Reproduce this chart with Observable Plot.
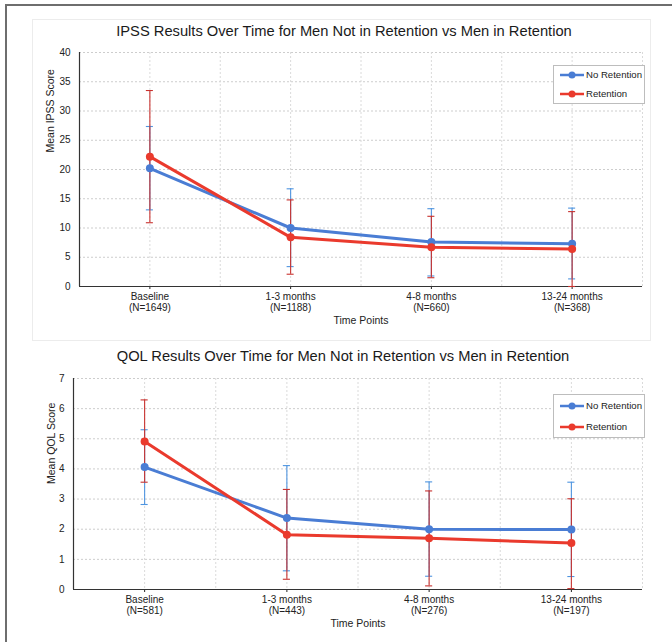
<!DOCTYPE html>
<html><head><meta charset="utf-8">
<script src="https://cdn.jsdelivr.net/npm/d3@7"></script>
<script src="https://cdn.jsdelivr.net/npm/@observablehq/plot@0.6"></script>
<style>
html,body{margin:0;padding:0;background:#fff;}
body{width:672px;height:642px;position:relative;overflow:hidden;font-family:"Liberation Sans",Arial,sans-serif;}
.abs{position:absolute;}
.frame{left:5px;top:4px;width:800px;height:800px;border:2px solid #6e6e6e;}
.panel{left:32px;top:19px;width:617px;height:320px;border:1px solid #ececec;}
.title{font-size:14.7px;color:#1a1a1a;white-space:nowrap;transform:translateX(-50%);line-height:17px;}
.legend{background:#fff;border:1px solid #bdbdbd;font-size:9.6px;color:#222;box-sizing:border-box;}
.legend .row{position:absolute;left:6px;display:flex;align-items:center;height:12px;line-height:12px;white-space:nowrap;}
.legend svg{display:block;margin-right:2px;flex:none;}
</style></head><body>
<div class="abs frame"></div>
<div class="abs panel"></div>
<div id="t1" class="abs title" style="left:344px;top:23px;"></div>
<div id="c1" class="abs" style="left:0;top:40px;"></div>
<div id="t2" class="abs title" style="left:343px;top:348px;"></div>
<div id="c2" class="abs" style="left:0;top:368px;"></div>
<div id="l1" class="abs legend" style="left:553px;top:65px;width:92px;height:39px;"></div>
<div id="l2" class="abs legend" style="left:553px;top:394px;width:92px;height:44px;"></div>
<script>
// ---- data ----
const categories = ["Baseline", "1-3 months", "4-8 months", "13-24 months"];
const seriesNames = ["No Retention", "Retention"];
const xTitle = "Time Points";

const ipssTitle = "IPSS Results Over Time for Men Not in Retention vs Men in Retention";
const ipssYLabel = "Mean IPSS Score";
const ipssN = [1649, 1188, 660, 368];
const ipssNoRetMean = [20.2, 10.0, 7.6, 7.3];
const ipssNoRetLo = [13.1, 3.4, 1.8, 1.3];
const ipssNoRetHi = [27.35, 16.7, 13.3, 13.4];
const ipssRetMean = [22.2, 8.4, 6.7, 6.4];
const ipssRetLo = [10.9, 2.1, 1.5, 0.0];
const ipssRetHi = [33.5, 14.8, 12.0, 12.8];

const qolTitle = "QOL Results Over Time for Men Not in Retention vs Men in Retention";
const qolYLabel = "Mean QOL Score";
const qolN = [581, 443, 276, 197];
const qolNoRetMean = [4.06, 2.37, 2.0, 1.99];
const qolNoRetLo = [2.82, 0.62, 0.44, 0.43];
const qolNoRetHi = [5.3, 4.11, 3.57, 3.56];
const qolRetMean = [4.91, 1.82, 1.70, 1.54];
const qolRetLo = [3.56, 0.34, 0.12, 0.03];
const qolRetHi = [6.29, 3.32, 3.27, 3.01];

const lineColors = ["#4a7dd4", "#ea3a2d"];
const barColors = ["#4f95e0", "#c8322f"];

function rows(mean, lo, hi) {
  return mean.map((m, i) => ({i, mean: m, lo: lo[i], hi: hi[i]}));
}

function chart({n, series, yMax, yStep, yLabel, height, marginLeft, marginTop, marginBottom, labelDx, labelDy}) {
  const cap = 0.025;
  const errMarks = [];
  const lineMarks = [];
  series.forEach((data, s) => {
    errMarks.push(
      Plot.ruleX(data, {x: "i", y1: "lo", y2: "hi", stroke: barColors[s], strokeWidth: 1.1}),
      Plot.ruleY(data, {y: "hi", x1: d => d.i - cap, x2: d => d.i + cap, stroke: barColors[s], strokeWidth: 1.1}),
      Plot.ruleY(data, {y: "lo", x1: d => d.i - cap, x2: d => d.i + cap, stroke: barColors[s], strokeWidth: 1.1})
    );
    lineMarks.push(
      Plot.line(data, {x: "i", y: "mean", stroke: lineColors[s], strokeWidth: 3}),
      Plot.dot(data, {x: "i", y: "mean", r: 4, fill: lineColors[s], stroke: "none"})
    );
  });
  return Plot.plot({
    width: 672, height, marginLeft, marginRight: 30, marginTop, marginBottom,
    style: {fontFamily: "'Liberation Sans', Arial, sans-serif", color: "#222", background: "transparent", overflow: "visible"},
    x: {domain: [-0.5, 3.5]},
    y: {domain: [0, yMax]},
    marks: [
      Plot.gridY({ticks: d3.range(yStep, yMax + yStep / 2, yStep), stroke: "#cdcdcd", strokeOpacity: 1, strokeDasharray: "2,2"}),
      Plot.gridX({ticks: d3.range(0, 3.51, 0.5), stroke: "#dadada", strokeOpacity: 1, strokeDasharray: "2,2"}),
      Plot.axisY({ticks: d3.range(0, yMax + yStep / 2, yStep), tickFormat: d3.format("d"), tickSize: 0, tickPadding: 9, fontSize: 10, label: null}),
      Plot.axisX({ticks: [0, 1, 2, 3], tickFormat: i => `${categories[i]}\n(N=${n[i]})`, tickSize: 3, tickPadding: 3, fontSize: 10, lineHeight: 1.1, label: null}),
      Plot.ruleY([0], {stroke: "#333", strokeWidth: 1.2}),
      Plot.ruleX([-0.5], {stroke: "#333", strokeWidth: 1.2}),
      Plot.text([xTitle], {text: d => d, frameAnchor: "bottom", dy: 37, fontSize: 10.5}),
      Plot.text([yLabel], {text: d => d, frameAnchor: "left", rotate: -90, dx: labelDx, dy: labelDy, fontSize: 10.5}),
      ...errMarks,
      ...lineMarks
    ]
  });
}

function legend(el, rowTops) {
  seriesNames.forEach((name, s) => {
    const row = document.createElement("div");
    row.className = "row";
    row.style.top = rowTops[s] + "px";
    row.innerHTML = `<svg width="24" height="12"><line x1="0" x2="24" y1="6" y2="6" stroke="${lineColors[s]}" stroke-width="2.5"/><circle cx="12" cy="6" r="3.5" fill="${lineColors[s]}"/></svg><span>${name}</span>`;
    el.appendChild(row);
  });
}

document.getElementById("t1").textContent = ipssTitle;
document.getElementById("t2").textContent = qolTitle;

document.getElementById("c1").appendChild(chart({
  n: ipssN,
  series: [rows(ipssNoRetMean, ipssNoRetLo, ipssNoRetHi), rows(ipssRetMean, ipssRetLo, ipssRetHi)],
  yMax: 40, yStep: 5, yLabel: ipssYLabel,
  height: 310, marginLeft: 79, marginTop: 12, marginBottom: 64, labelDx: -29, labelDy: -17
}));
document.getElementById("c2").appendChild(chart({
  n: qolN,
  series: [rows(qolNoRetMean, qolNoRetLo, qolNoRetHi), rows(qolRetMean, qolRetLo, qolRetHi)],
  yMax: 7, yStep: 1, yLabel: qolYLabel,
  height: 274, marginLeft: 73, marginTop: 10, marginBottom: 53, labelDx: -22, labelDy: 0
}));

legend(document.getElementById("l1"), [3, 22]);
legend(document.getElementById("l2"), [5, 26]);
</script>
</body></html>
